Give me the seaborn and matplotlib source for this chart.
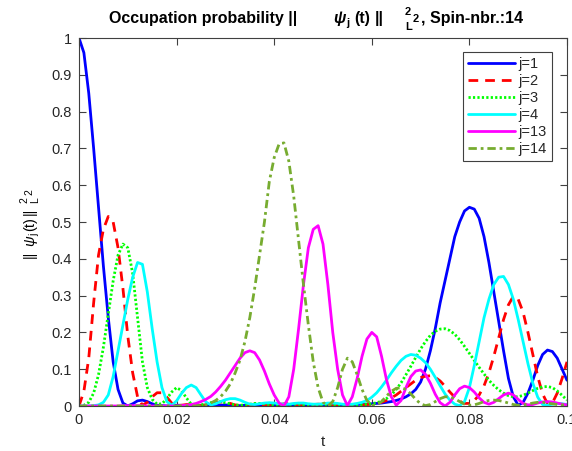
import numpy as np
import pandas as pd
import matplotlib
matplotlib.use("Agg")
import matplotlib.pyplot as plt
from matplotlib.transforms import IdentityTransform
import seaborn as sns

# Sample times (step 0.001 from 0 to 0.1)
t = np.linspace(0.0, 0.1, 101)

# Occupation probabilities ||psi_j(t)||^2 for the tracked spins
p_j1 = [1.00, 0.96, 0.85, 0.70, 0.54, 0.38, 0.24, 0.12, 0.045, 0.008,
        0.0, 0.006, 0.014, 0.016, 0.012, 0.006, 0.002, 0.001, 0.0, 0.001,
        0.002, 0.002, 0.001, 0.0, 0.001, 0.002, 0.002, 0.001, 0.001, 0.002,
        0.003, 0.002, 0.001, 0.001, 0.002, 0.002, 0.001, 0.0, 0.001, 0.002,
        0.002, 0.001, 0.001, 0.002, 0.003, 0.002, 0.001, 0.001, 0.002, 0.002,
        0.001, 0.001, 0.002, 0.003, 0.003, 0.003, 0.004, 0.004, 0.005, 0.005,
        0.006, 0.007, 0.008, 0.010, 0.012, 0.015, 0.019, 0.025, 0.033, 0.045,
        0.065, 0.10, 0.15, 0.21, 0.28, 0.34, 0.40, 0.46, 0.50, 0.53,
        0.54, 0.535, 0.51, 0.46, 0.39, 0.31, 0.23, 0.15, 0.075, 0.025,
        0.002, 0.01, 0.035, 0.07, 0.11, 0.14, 0.152, 0.148, 0.13, 0.10,
        0.07]
p_j2 = [0.0, 0.04, 0.13, 0.28, 0.41, 0.48, 0.515, 0.50, 0.43, 0.32,
        0.19, 0.09, 0.025, 0.002, 0.01, 0.025, 0.036, 0.036, 0.024, 0.008,
        0.001, 0.002, 0.004, 0.004, 0.002, 0.001, 0.003, 0.006, 0.009, 0.011,
        0.010, 0.007, 0.003, 0.001, 0.002, 0.004, 0.005, 0.004, 0.002, 0.001,
        0.002, 0.004, 0.006, 0.006, 0.004, 0.002, 0.001, 0.002, 0.004, 0.005,
        0.004, 0.002, 0.001, 0.002, 0.003, 0.003, 0.002, 0.002, 0.003, 0.004,
        0.005, 0.007, 0.010, 0.015, 0.022, 0.030, 0.040, 0.050, 0.060, 0.070,
        0.077, 0.081, 0.082, 0.078, 0.068, 0.054, 0.038, 0.024, 0.013, 0.007,
        0.007, 0.015, 0.030, 0.055, 0.090, 0.135, 0.185, 0.235, 0.275, 0.298,
        0.29, 0.255, 0.20, 0.14, 0.08, 0.033, 0.006, 0.008, 0.035, 0.075,
        0.12]
p_j3 = [0.0, 0.002, 0.01, 0.035, 0.085, 0.16, 0.25, 0.34, 0.41, 0.44,
        0.43, 0.36, 0.24, 0.12, 0.05, 0.018, 0.005, 0.006, 0.02, 0.038,
        0.05, 0.042, 0.022, 0.005, 0.001, 0.003, 0.006, 0.009, 0.011, 0.011,
        0.009, 0.006, 0.003, 0.002, 0.003, 0.005, 0.007, 0.007, 0.006, 0.004,
        0.002, 0.001, 0.002, 0.004, 0.005, 0.005, 0.003, 0.002, 0.002, 0.003,
        0.004, 0.004, 0.003, 0.002, 0.002, 0.003, 0.003, 0.003, 0.004, 0.005,
        0.006, 0.009, 0.013, 0.020, 0.030, 0.045, 0.063, 0.085, 0.108, 0.132,
        0.155, 0.175, 0.192, 0.203, 0.209, 0.21, 0.205, 0.195, 0.18, 0.162,
        0.143, 0.124, 0.105, 0.087, 0.07, 0.056, 0.044, 0.035, 0.028, 0.025,
        0.025, 0.029, 0.035, 0.042, 0.048, 0.052, 0.053, 0.05, 0.041, 0.029,
        0.016]
p_j4 = [0.0, 0.0, 0.0, 0.001, 0.003, 0.01, 0.03, 0.08, 0.15, 0.22,
        0.29, 0.35, 0.39, 0.385, 0.31, 0.21, 0.12, 0.05, 0.012, 0.002,
        0.014, 0.034, 0.05, 0.057, 0.05, 0.03, 0.011, 0.003, 0.006, 0.012,
        0.017, 0.02, 0.02, 0.016, 0.01, 0.005, 0.004, 0.006, 0.008, 0.009,
        0.008, 0.006, 0.005, 0.005, 0.007, 0.008, 0.008, 0.006, 0.005, 0.005,
        0.006, 0.008, 0.008, 0.007, 0.005, 0.004, 0.005, 0.007, 0.01, 0.015,
        0.024, 0.036, 0.052, 0.07, 0.09, 0.108, 0.124, 0.135, 0.14, 0.138,
        0.13, 0.118, 0.10, 0.078, 0.055, 0.033, 0.016, 0.005, 0.001, 0.012,
        0.05, 0.11, 0.175, 0.24, 0.29, 0.33, 0.35, 0.352, 0.33, 0.29,
        0.235, 0.175, 0.115, 0.062, 0.024, 0.004, 0.002, 0.005, 0.007, 0.006,
        0.004]
p_j13 = [0.0, 0.0, 0.0, 0.0, 0.0, 0.0, 0.0, 0.0, 0.0, 0.001,
         0.001, 0.001, 0.001, 0.001, 0.0, 0.0, 0.0, 0.0, 0.0, 0.0,
         0.0, 0.001, 0.002, 0.004, 0.007, 0.012, 0.018, 0.026, 0.038, 0.053,
         0.07, 0.09, 0.11, 0.13, 0.145, 0.15, 0.145, 0.125, 0.095, 0.06,
         0.03, 0.008, 0.0, 0.025, 0.10, 0.21, 0.33, 0.43, 0.48, 0.49,
         0.44, 0.33, 0.20, 0.10, 0.03, 0.001, 0.025, 0.075, 0.135, 0.182,
         0.20, 0.188, 0.135, 0.072, 0.025, 0.002, 0.015, 0.05, 0.08, 0.095,
         0.098, 0.086, 0.062, 0.032, 0.009, 0.0, 0.01, 0.03, 0.047, 0.054,
         0.05, 0.038, 0.022, 0.01, 0.005, 0.01, 0.02, 0.03, 0.035, 0.03,
         0.018, 0.007, 0.003, 0.004, 0.008, 0.011, 0.012, 0.011, 0.008, 0.005,
         0.003]
p_j14 = [0.0, 0.0, 0.0, 0.0, 0.0, 0.0, 0.0, 0.0, 0.0, 0.0,
         0.0, 0.0, 0.0, 0.0, 0.0, 0.0, 0.0, 0.0, 0.0, 0.0,
         0.0, 0.0, 0.0, 0.0, 0.0, 0.001, 0.003, 0.008, 0.015, 0.025,
         0.04, 0.06, 0.09, 0.125, 0.175, 0.24, 0.32, 0.41, 0.50, 0.61,
         0.675, 0.712, 0.715, 0.665, 0.57, 0.45, 0.33, 0.22, 0.12, 0.05,
         0.01, 0.0, 0.012, 0.05, 0.10, 0.13, 0.12, 0.085, 0.045, 0.015,
         0.002, 0.003, 0.012, 0.027, 0.04, 0.048, 0.05, 0.045, 0.033, 0.018,
         0.006, 0.001, 0.004, 0.012, 0.02, 0.025, 0.025, 0.02, 0.012, 0.005,
         0.002, 0.003, 0.007, 0.012, 0.015, 0.016, 0.015, 0.012, 0.008, 0.004,
         0.002, 0.003, 0.005, 0.008, 0.01, 0.01, 0.008, 0.006, 0.004, 0.003,
         0.003]

labels = ["j=1", "j=2", "j=3", "j=4", "j=13", "j=14"]
series = [p_j1, p_j2, p_j3, p_j4, p_j13, p_j14]
colors = ["#0000ff", "#ff0000", "#00ff00", "#00ffff", "#ff00ff", "#77ac30"]
styles = ["-", (0, (3.5, 2.5)), (0, (0.8, 0.8)), "-", "-", (0, (3.0, 1.4, 1.0, 1.4))]

x_ticks = [0, 0.02, 0.04, 0.06, 0.08, 0.1]
x_tick_labels = ["0", "0.02", "0.04", "0.06", "0.08", "0.1"]
y_ticks = [0, 0.1, 0.2, 0.3, 0.4, 0.5, 0.6, 0.7, 0.8, 0.9, 1.0]
y_tick_labels = ["0", "0.1", "0.2", "0.3", "0.4", "0.5", "0.6", "0.7", "0.8", "0.9", "1"]

sns.set_style("ticks")
plt.rcParams["font.family"] = ["Liberation Sans", "DejaVu Sans"]

W, H = 572, 451
fig = plt.figure(figsize=(W / 100, H / 100), dpi=100)
ax = fig.add_axes([79 / W, 45 / H, 488 / W, 368 / H])

df = pd.DataFrame({"t": np.tile(t, len(labels)),
                   "p": np.concatenate([np.asarray(s) for s in series]),
                   "spin": np.repeat(labels, len(t))})

for lab, col, ls in zip(labels, colors, styles):
    sub = df[df["spin"] == lab]
    sns.lineplot(data=sub, x="t", y="p", ax=ax, color=col, linestyle=ls,
                 linewidth=2.0, label=lab, estimator=None, sort=False)

ax.set_xlim(0, 0.1)
ax.set_ylim(0, 1)
ax.set_xticks(x_ticks)
ax.set_xticklabels(x_tick_labels)
ax.set_yticks(y_ticks)
ax.set_yticklabels(y_tick_labels)
ax.tick_params(direction="in", top=True, right=True, length=5, width=0.8,
               colors="#404040", labelcolor="#262626", labelsize=10.5, pad=5)
for sp in ax.spines.values():
    sp.set_visible(True)
    sp.set_color("#404040")
    sp.set_linewidth(0.8)

ax.set_xlabel("t", fontsize=11, color="#262626", labelpad=6)
ax.set_ylabel("")

leg = ax.legend(loc="upper right", bbox_to_anchor=(0.969, 0.962), borderaxespad=0,
                fontsize=10.5, handlelength=3.2, handletextpad=0.25, labelspacing=0.2,
                borderpad=0.35, frameon=True, fancybox=False, framealpha=1)
leg.get_frame().set_edgecolor("#404040")
leg.get_frame().set_linewidth(0.8)


def put(x, y, s, size, weight="normal", style="normal", rot=0):
    fig.text(x, H - y, s, transform=IdentityTransform(), fontsize=size,
             fontweight=weight, fontstyle=style, rotation=rot,
             rotation_mode="anchor", ha="left", va="baseline", color="black")


# Title, laid out piece by piece
put(109, 22.5, "Occupation probability ||", 11.5, "bold")
put(333, 22.5, "\u03c8", 11.5, "bold", "italic")
put(346, 25.5, "j", 8, "bold")
put(354, 22.5, "(t)", 11.5, "bold")
put(375, 22.5, "||", 11.5, "bold")
put(405, 15, "2", 8, "bold")
put(405, 29.5, "L", 8, "bold")
put(413, 22, "2", 8, "bold")
put(421, 22.5, ", Spin-nbr.:14", 11.5, "bold")

# Rotated y-axis label
put(34, 258, "||", 10.5, rot=90)
put(34, 246, "\u03c8", 10.5, style="italic", rot=90)
put(37, 236, "j", 7.5, rot=90)
put(34, 231, "(t)", 10.5, rot=90)
put(34, 215, "||", 10.5, rot=90)
put(27, 203, "2", 7.5, rot=90)
put(38, 203, "L", 7.5, rot=90)
put(32, 195, "2", 7.5, rot=90)

fig.savefig("out.png", dpi=100)
